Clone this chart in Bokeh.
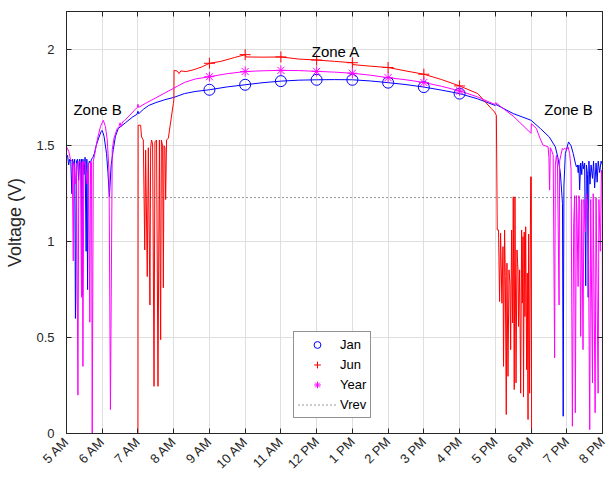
import math
from bokeh.plotting import figure
from bokeh.models import Range1d, FixedTicker, LinearAxis, Legend, LegendItem
from bokeh.core.properties import value
from bokeh.embed import file_html
from bokeh.resources import INLINE

# ---------------- data ----------------
hour_ticks = list(range(5, 21))
hour_labels = ["5 AM", "6 AM", "7 AM", "8 AM", "9 AM", "10 AM", "11 AM", "12 PM",
               "1 PM", "2 PM", "3 PM", "4 PM", "5 PM", "6 PM", "7 PM", "8 PM"]
volt_ticks = [0, 0.5, 1, 1.5, 2]
volt_labels = ["0", "0.5", "1", "1.5", "2"]

jan_t = [5.00, 5.03, 5.06, 5.09, 5.12, 5.15, 5.17, 5.20, 5.23, 5.25, 5.26, 5.28, 5.31, 5.34,
         5.37, 5.40, 5.42, 5.44, 5.46, 5.49, 5.52, 5.55, 5.57, 5.59, 5.61, 5.64, 5.67, 5.70,
         5.74, 5.78, 5.83, 5.90, 5.97, 6.00, 6.05, 6.12, 6.16, 6.20, 6.25, 6.31, 6.37, 6.45,
         6.55, 6.65, 6.75, 6.85, 6.97, 7.00, 7.02, 7.15, 7.30, 7.50, 7.75, 8.00, 8.30, 8.60,
         9.00, 9.50, 10.00, 10.50, 11.00, 11.50, 12.00, 12.50, 13.00, 13.50, 14.00, 14.50,
         15.00, 15.50, 16.00, 16.50, 17.00, 17.02, 17.50, 18.00, 18.26, 18.51, 18.68, 18.75,
         18.82, 18.88, 18.90, 18.92, 18.96, 19.05, 19.12, 19.18, 19.24, 19.27, 19.30, 19.32,
         19.34, 19.36, 19.39, 19.42, 19.44, 19.47, 19.50, 19.53, 19.55, 19.58, 19.60, 19.62,
         19.65, 19.68, 19.72, 19.75, 19.78, 19.82, 19.85, 19.88, 19.92, 19.96, 20.00]
jan_v = [1.44, 1.45, 1.40, 1.43, 1.42, 1.25, 1.43, 1.40, 1.43, 0.60, 0.70, 1.42, 1.43, 1.32,
         1.43, 1.38, 1.43, 0.72, 1.43, 1.35, 1.44, 0.95, 1.43, 0.75, 1.40, 1.42, 1.41, 1.43,
         1.44, 1.46, 1.50, 1.54, 1.575, 1.58, 1.55, 1.46, 1.36, 1.234, 1.40, 1.48, 1.55, 1.59,
         1.605, 1.62, 1.635, 1.65, 1.664, 1.68, 1.667, 1.69, 1.71, 1.725, 1.74, 1.752, 1.772, 1.783,
         1.792, 1.807, 1.818, 1.829, 1.837, 1.842, 1.844, 1.845, 1.844, 1.838, 1.829, 1.819,
         1.806, 1.79, 1.772, 1.745, 1.71, 1.715, 1.668, 1.633, 1.59, 1.546, 1.494, 1.44,
         1.36, 1.20, 0.09, 1.29, 1.46, 1.52, 1.50, 1.46, 1.41, 1.39, 1.40, 1.36,
         1.40, 1.27, 1.41, 1.35, 1.42, 1.38, 1.41, 0.77, 1.40, 1.35, 0.71, 1.42,
         1.30, 1.40, 1.33, 1.42, 1.28, 1.41, 1.31, 1.42, 1.36, 1.42, 1.40]

jun_t = [5.00, 7.00, 7.005, 7.075, 7.10, 7.15, 7.19, 7.215, 7.26, 7.29, 7.335, 7.355, 7.38,
         7.41, 7.45, 7.475, 7.52, 7.56, 7.60, 7.635, 7.655, 7.69, 7.71, 7.73, 7.755, 7.775,
         7.80, 7.85, 7.895, 7.935, 7.99, 8.005, 8.01, 8.10, 8.15, 8.20, 8.35, 8.57, 8.80,
         9.00, 9.32, 9.70, 10.00, 10.02, 10.50, 11.00, 11.50, 12.00, 12.50, 13.00, 13.02,
         13.50, 14.00, 14.50, 15.00, 15.50, 16.00, 16.51, 16.887, 16.98, 17.03, 17.055,
         17.09, 17.12, 17.148, 17.185, 17.215, 17.23, 17.26, 17.28, 17.307, 17.326, 17.355,
         17.383, 17.41, 17.43, 17.457, 17.485, 17.503, 17.53, 17.55, 17.58, 17.607, 17.635,
         17.65, 17.68, 17.71, 17.737, 17.756, 17.775, 17.79, 17.81, 17.83, 17.85, 17.877,
         17.895, 17.916, 17.933, 17.96, 17.99, 18.008, 18.015, 20.00]
jun_v = [0.0, 0.0, 1.607, 1.607, 1.546, 1.53, 0.957, 1.477, 0.818, 1.49, 0.67, 1.49, 1.53,
         1.51, 0.246, 1.52, 1.53, 0.246, 1.53, 0.489, 1.53, 1.50, 0.76, 1.50, 1.49, 1.22,
         1.53, 1.54, 1.598, 1.65, 1.72, 1.74, 1.893, 1.89, 1.876, 1.89, 1.887, 1.897, 1.912,
         1.93, 1.94, 1.96, 1.975, 1.963, 1.962, 1.963, 1.952, 1.947, 1.94, 1.933, 1.923,
         1.915, 1.908, 1.89, 1.873, 1.845, 1.812, 1.772, 1.694, 1.676, 1.659, 1.061,
         1.061, 0.688, 1.044, 0.679, 0.974, 0.35, 1.061, 0.818, 0.099, 0.888, 0.298,
         0.853, 0.784, 0.437, 1.061, 0.576, 1.234, 0.229, 1.234, 0.264, 0.957, 0.853,
         0.558, 0.853, 0.21, 1.061, 0.68, 1.026, 0.19, 1.05, 0.61, 1.078, 0.333,
         0.836, 0.073, 1.04, 0.21, 1.338, 1.338, 0.0, 0.0]

year_t = [5.000, 5.002, 5.065, 5.11, 5.16, 5.19, 5.205, 5.25, 5.28, 5.32, 5.345, 5.39, 5.42,
          5.44, 5.46, 5.485, 5.53, 5.58, 5.617, 5.653, 5.673, 5.70, 5.72, 5.75, 5.785, 5.83,
          5.86, 5.95, 6.03, 6.09, 6.14, 6.19, 6.23, 6.28, 6.33, 6.42, 6.47, 6.50, 6.53, 6.57,
          6.62, 6.75, 6.90, 6.98, 7.00, 7.02, 7.20, 7.50, 7.75, 8.00, 8.30, 8.60, 9.00, 9.50,
          10.00, 10.50, 11.00, 11.50, 12.00, 12.50, 13.00, 13.50, 14.00, 14.50, 15.00, 15.50,
          16.00, 16.50, 16.99, 17.01, 17.25, 17.50, 17.75, 18.00, 18.01, 18.15, 18.25, 18.336,
          18.40, 18.477, 18.50, 18.52, 18.54, 18.57, 18.62, 18.66, 18.68, 18.71, 18.74, 18.785,
          18.80, 18.877, 18.90, 18.94, 19.00, 19.037, 19.08, 19.12, 19.157, 19.194, 19.22,
          19.24, 19.27, 19.29, 19.317, 19.34, 19.36, 19.39, 19.42, 19.455, 19.48, 19.52,
          19.55, 19.60, 19.643, 19.67, 19.72, 19.74, 19.794, 19.82, 19.878, 19.90, 19.94,
          19.97, 19.995, 20.00]
year_v = [0.0, 1.494, 1.47, 1.43, 1.42, 0.90, 1.41, 1.30, 1.41, 0.20, 1.42, 1.41, 0.71,
          1.42, 0.35, 1.42, 1.40, 1.30, 1.41, 0.58, 1.42, 1.41, 0.0, 1.42, 1.45, 1.50,
          1.53, 1.60, 1.633, 1.60, 1.53, 1.37, 0.125, 1.48, 1.54, 1.59, 1.60, 1.62, 1.60, 1.625,
          1.63, 1.655, 1.685, 1.70, 1.716, 1.70, 1.72, 1.75, 1.775, 1.80, 1.83, 1.848, 1.86, 1.876,
          1.887, 1.891, 1.893, 1.892, 1.888, 1.884, 1.878, 1.868, 1.855, 1.844, 1.83, 1.81,
          1.786, 1.755, 1.715, 1.725, 1.69, 1.655, 1.61, 1.565, 1.615, 1.59, 1.54, 1.503,
          1.50, 1.494, 1.44, 1.269, 1.49, 1.48, 1.45, 0.394, 1.40, 1.45, 1.40, 0.67,
          1.42, 1.486, 1.48, 1.486, 1.48, 1.494, 1.46, 1.38, 0.038, 1.096, 1.24,
          0.108, 1.24, 1.10, 0.766, 1.24, 1.20, 0.506, 1.22, 0.437, 1.22, 1.05,
          1.25, 1.15, 0.02, 1.22, 0.264, 1.25, 0.108, 1.23, 0.21, 1.22, 0.95,
          1.373, 1.30, 0.0]

marker_hours = [9, 10, 11, 12, 13, 14, 15, 16]
jan_marker = [1.792, 1.818, 1.837, 1.844, 1.844, 1.829, 1.806, 1.772]
jun_marker = [1.93, 1.975, 1.963, 1.947, 1.933, 1.908, 1.873, 1.812]
year_marker = [1.86, 1.887, 1.893, 1.888, 1.878, 1.855, 1.83, 1.786]

vrev_t = [5, 20]
vrev_v = [1.23, 1.23]

zone_labels = ["Zone A", "Zone B", "Zone B"]
zone_x = [12.54, 5.87, 19.05]
zone_y = [1.99, 1.69, 1.69]

# ---------------- figure ----------------
FONT = "Liberation Sans"
INK = "#262626"

p = figure(width=611, height=479, x_range=Range1d(5, 20), y_range=Range1d(0, 2.2),
           output_backend="svg", toolbar_location=None,
           min_border_left=66, min_border_right=9, min_border_top=11, min_border_bottom=45)
p.background_fill_color = "white"
p.border_fill_color = "white"
p.outline_line_color = INK
p.outline_line_width = 1

xt = FixedTicker(ticks=hour_ticks)
yt = FixedTicker(ticks=volt_ticks)
p.xaxis.ticker = xt
p.yaxis.ticker = yt
p.xgrid.ticker = xt
p.ygrid.ticker = yt
p.xaxis.major_label_overrides = {t: l for t, l in zip(hour_ticks, hour_labels)}
p.yaxis.major_label_overrides = {t: l for t, l in zip(volt_ticks, volt_labels)}
p.xaxis.major_label_orientation = math.pi / 4

for ax in (p.xaxis[0], p.yaxis[0]):
    ax.major_tick_in = 5
    ax.major_tick_out = 0
    ax.minor_tick_line_color = None
    ax.axis_line_color = INK
    ax.major_tick_line_color = INK
    ax.major_label_text_color = INK
    ax.major_label_text_font = FONT
    ax.major_label_text_font_size = "13px"
p.yaxis.major_label_standoff = 12
p.xaxis.major_label_standoff = 6
p.yaxis.axis_label = "Voltage (V)"
p.yaxis.axis_label_text_font = FONT
p.yaxis.axis_label_text_font_size = "18px"
p.yaxis.axis_label_text_font_style = "normal"
p.yaxis.axis_label_text_color = INK
p.yaxis.axis_label_standoff = 8

for side, tk in (("right", yt), ("above", xt)):
    extra = LinearAxis(ticker=tk, major_tick_in=5, major_tick_out=0,
                       minor_tick_line_color=None, axis_line_color=INK,
                       major_tick_line_color=INK, major_label_text_font_size="0px",
                       major_label_text_alpha=0, major_label_standoff=0)
    p.add_layout(extra, side)

for g in (p.xgrid[0], p.ygrid[0]):
    g.grid_line_color = "#dfdfdf"
    g.grid_line_width = 1

p.line(jan_t, jan_v, line_color="#0000ff", line_width=1)
p.line(jun_t, jun_v, line_color="#ff0000", line_width=1)
p.line(year_t, year_v, line_color="#ff00ff", line_width=1)

r_jan = p.scatter(marker_hours, jan_marker, marker="circle", size=11, fill_color=None,
                  line_color="#0000ff", line_width=1)
r_jun = p.scatter(marker_hours, jun_marker, marker="cross", size=11,
                  line_color="#ff0000", line_width=1)
r_year = p.scatter(marker_hours, year_marker, marker="asterisk", size=10,
                   line_color="#ff00ff", line_width=1)
r_vrev = p.line(vrev_t, vrev_v, line_color="#333333", line_width=1, line_dash="1 3")

p.text(x=zone_x, y=zone_y, text=zone_labels, text_font=value(FONT), text_font_size="15px",
       text_align="center", text_baseline="middle", text_color="black")

legend = Legend(items=[LegendItem(label="Jan", renderers=[r_jan]),
                       LegendItem(label="Jun", renderers=[r_jun]),
                       LegendItem(label="Year", renderers=[r_year]),
                       LegendItem(label="Vrev", renderers=[r_vrev])],
                location=(227, 15), orientation="vertical",
                border_line_color=INK, border_line_width=1,
                background_fill_color="white", background_fill_alpha=1.0,
                label_text_font=FONT, label_text_font_size="13px", label_text_color="black",
                glyph_width=38, glyph_height=17, label_height=17, label_standoff=4,
                padding=4, spacing=3, margin=0)
p.add_layout(legend)

open("out.html", "w").write(file_html(p, INLINE))
